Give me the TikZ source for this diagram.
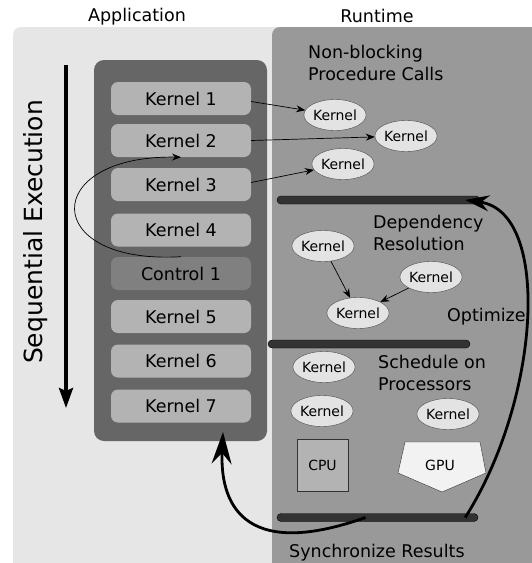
\documentclass[tikz,border=0pt]{standalone}
\usepackage{fontspec}
\setmainfont{DejaVu Sans}
\usetikzlibrary{shapes.geometric,arrows.meta}
\definecolor{appbg}{HTML}{E6E6E6}
\definecolor{rtbg}{HTML}{999999}
\definecolor{colfill}{HTML}{666666}
\definecolor{kernfill}{HTML}{B3B3B3}
\definecolor{ctrlfill}{HTML}{808080}
\definecolor{taskfill}{HTML}{E3E3E3}
\definecolor{barfill}{HTML}{333333}
\definecolor{gpufill}{HTML}{F2F2F2}

\begin{document}
\begin{tikzpicture}[x=1pt,y=-1pt,
  kern/.style={rounded corners=7pt, fill=kernfill, minimum width=140pt, minimum height=33pt, inner sep=0pt, font=\fontsize{17.5}{20}\selectfont},
  task/.style={ellipse, draw=black!70, fill=taskfill, minimum width=56pt, minimum height=31pt, inner sep=0pt, font=\fontsize{14}{16}\selectfont},
  bar/.style={rounded corners=4pt, draw=black, fill=barfill, minimum height=8pt, inner sep=0pt},
  phase/.style={align=left, anchor=west, inner sep=0pt, font=\fontsize{17.5}{22}\selectfont},
  call/.style={-{Stealth[length=9pt,width=7pt]}, line width=.7pt},
  flow/.style={-{Stealth[length=24pt,width=16pt,inset=8pt]}, line width=2.8pt}
]
\useasboundingbox (0,0) rectangle (531,563);
% panels
\fill[appbg, rounded corners=8pt] (13,27) rectangle (545,580);
\fill[rtbg, rounded corners=8pt] (272,27) rectangle (545,580);
\node[font=\fontsize{17.5}{20}\selectfont] (apptitle) at (137,17) {Application};
\node[font=\fontsize{17.5}{20}\selectfont] (rttitle) at (377,16) {Runtime};

% application side
\node[fill=colfill, rounded corners=10pt, minimum width=173pt, minimum height=381pt, inner sep=0pt] (col) at (180.5,250.5) {};
\node[kern] (k1) at (181,98.5) {Kernel 1};
\node[kern] (k2) at (181,140.5) {Kernel 2};
\node[kern] (k3) at (181,184.5) {Kernel 3};
\node[kern] (k4) at (181,230) {Kernel 4};
\node[kern, fill=ctrlfill] (ctrl) at (181,273.5) {Control 1};
\node[kern] (k5) at (181,316.5) {Kernel 5};
\node[kern] (k6) at (181,361) {Kernel 6};
\node[kern] (k7) at (181,406) {Kernel 7};

\coordinate (seqtop) at (66,65);
\coordinate (seqend) at (66,408);
\draw[line width=3.5pt, -{Stealth[length=20pt,width=14pt,inset=3pt]}] (seqtop) -- (seqend);
\node[rotate=90, font=\fontsize{25}{30}\selectfont] (seqtext) at (36,232) {Sequential Execution};

\draw[call] ([yshift=-10pt]k4.south) .. controls (40,265) and (40,155) .. (k2.south);

% runtime side
\node[phase] (nbtext) at (308,63) {Non-blocking\\Procedure Calls};
\node[task] (t1) at (335,115) {Kernel};
\node[task] (t2) at (406,136) {Kernel};
\node[task] (t3) at (343,164) {Kernel};
\draw[call] ([yshift=-3pt]k1.east) -- (t1);
\draw[call] (k2.east) -- (t2);
\draw[call] ([yshift=2pt]k3.east) -- (t3);

\node[bar, minimum width=203pt] (bar1) at (378.5,200) {};
\node[phase] (deptext) at (373,232.5) {Dependency\\Resolution};
\node[task] (d1) at (323,246) {Kernel};
\node[task] (d2) at (431,277) {Kernel};
\node[task] (d3) at (358,313) {Kernel};
\draw[call] (d1) -- (d3);
\draw[call] (d2) -- (d3);
\node[phase] (opttext) at (447,317) {Optimize};

\node[bar, minimum width=202pt] (bar2) at (369,344) {};
\node[phase] (schedtext) at (378,372.5) {Schedule on\\Processors};
\node[task] (s1) at (324,367) {Kernel};
\node[task] (s2) at (322,411) {Kernel};
\node[task] (s3) at (448,414) {Kernel};
\node[draw=black!80, fill=kernfill, minimum width=51pt, minimum height=52pt, inner sep=0pt, font=\fontsize{14}{16}\selectfont] (cpu) at (322.5,465) {CPU};
\draw[draw=black!80, fill=gpufill] (405,442) -- (480,442) -- (486,473) -- (442,492) -- (398,473) -- cycle;
\node[font=\fontsize{14}{16}\selectfont] (gpu) at (440,465) {GPU};

\node[bar, minimum width=201pt] (bar3) at (377.5,517.5) {};
\node[phase] (synctext) at (289,553) {Synchronize Results};

% feedback arrows
\coordinate (back) at (223,432);
\draw[flow] ([xshift=-13pt]bar3.east) .. controls (540,400) and (552,212) .. ([xshift=-15pt]bar1.east);
\draw[flow, -{Stealth[length=32pt,width=20pt,inset=11pt]}] ([xshift=-12pt]bar3.center) .. controls (240,562) and (220,500) .. (back);
\end{tikzpicture}
\end{document}
